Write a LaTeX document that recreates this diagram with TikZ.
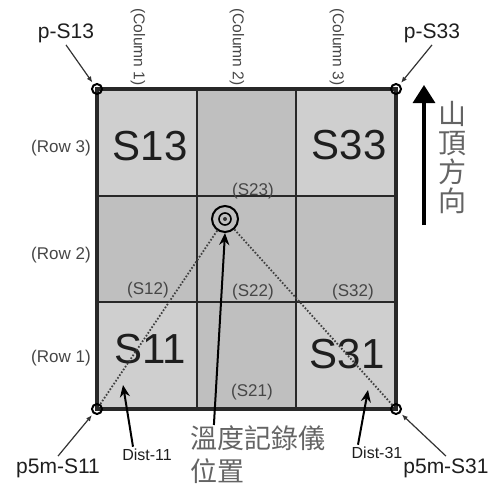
\documentclass[tikz,border=0pt]{standalone}
\usepackage{fontspec}
\setmainfont{Liberation Sans}
\newfontfamily\cjkfont{Noto Sans CJK TC}
\usepackage{xcolor}
\usepackage{tikz}
\usetikzlibrary{arrows.meta}
\definecolor{cellLt}{RGB}{207,207,207}
\definecolor{cellDk}{RGB}{191,191,191}
\definecolor{gridC}{RGB}{40,40,40}
\definecolor{txtC}{RGB}{30,30,30}
\definecolor{subC}{RGB}{70,70,70}
\definecolor{cjkC}{RGB}{100,100,100}
\tikzset{
  cellbox/.style={draw=gridC,line width=1pt,fill=cellLt,minimum width=49.5pt,
                  minimum height=53pt,inner sep=0pt},
  cellmid/.style={cellbox,fill=cellDk},
  bigtag/.style={font=\fontsize{21}{21}\selectfont,text=txtC,inner sep=0pt},
  subtag/.style={font=\fontsize{8.5}{8.5}\selectfont,text=subC,inner sep=1pt},
  coltag/.style={subtag,font=\fontsize{7.8}{7.8}\selectfont,rotate=-90},
  ptag/.style={font=\fontsize{10.5}{10.5}\selectfont,text=txtC,inner sep=1pt},
  disttag/.style={font=\fontsize{8}{8}\selectfont,text=txtC,inner sep=1pt},
  cjktag/.style={font=\cjkfont\fontsize{13.5}{16.5}\selectfont,text=cjkC,inner sep=0pt},
  marker/.style={circle,draw=black,line width=1pt,minimum size=5pt,inner sep=0pt},
  logger/.style={circle,draw=black,line width=1pt,minimum size=13pt,inner sep=0pt},
  ptr/.style={-{Latex[length=3pt,width=2.5pt]},line width=0.6pt,black!80,shorten >=1pt},
  sightline/.style={line width=0.9pt,black!75,dash pattern=on 0.8pt off 0.9pt},
  distarr/.style={-{Stealth[length=6pt,width=5pt]},line width=1pt,black},
  uparr/.style={-{Triangle[length=9pt,width=11pt]},line width=1.6pt,black},
}

\begin{document}
\begin{tikzpicture}[x=0.5pt,y=-0.5pt]
  \useasboundingbox (0,0) rectangle (489,493);
  % plot cells (column, row)
  \foreach \cl/\rw/\cx/\cy/\cs in {1/3/147.5/143/cellbox, 2/3/246.5/143/cellmid, 3/3/345.5/143/cellbox,
                                  1/2/147.5/249/cellmid, 2/2/246.5/249/cellmid, 3/2/345.5/249/cellmid,
                                  1/1/147.5/355/cellbox, 2/1/246.5/355/cellmid, 3/1/345.5/355/cellbox}
    \node[\cs] (c\cl\rw) at (\cx,\cy) {};
  \draw[gridC,line width=1.6pt] (c13.north west) rectangle (c31.south east);

  \node[bigtag] (s13) at (150,146) {S13};
  \node[bigtag] (s33) at (349,145) {S33};
  \node[bigtag] (s11) at (150,349) {S11};
  \node[bigtag] (s31) at (347,354) {S31};
  \node[subtag] (s23) at (253,191) {(S23)};
  \node[subtag] (s12) at (148,290) {(S12)};
  \node[subtag] (s22) at (253,292) {(S22)};
  \node[subtag] (s32) at (353,292) {(S32)};
  \node[subtag] (s21) at (252,392) {(S21)};

  \node[subtag] (r3) at (61,148) {(Row 3)};
  \node[subtag] (r2) at (61,255) {(Row 2)};
  \node[subtag] (r1) at (61,358) {(Row 1)};
  \node[coltag] (k1) at (138,47) {(Column 1)};
  \node[coltag] (k2) at (237,47) {(Column 2)};
  \node[coltag] (k3) at (337,47) {(Column 3)};

  % corner points and logger
  \node[marker] (p13) at (c13.north west) {};
  \node[marker] (p33) at (c33.north east) {};
  \node[marker] (p11) at (c11.south west) {};
  \node[marker] (p31) at (c31.south east) {};
  \node[logger] (lg) at (225,219) {};
  \node[circle,draw=black,line width=0.8pt,minimum size=6pt,inner sep=0pt] (lgin) at (lg) {};
  \fill[black!80] (lgin) circle (1pt);
  \draw[sightline] (lg) -- (p11);
  \draw[sightline] (lg) -- (p31);

  \node[ptag] (tp13) at (66,33) {p-S13};
  \node[ptag] (tp33) at (432,33) {p-S33};
  \node[ptag] (tp11) at (58,468) {p5m-S11};
  \node[ptag] (tp31) at (446,468) {p5m-S31};
  \draw[ptr] (tp13.south) -- (p13);
  \draw[ptr] (tp33.south) -- (p33);
  \draw[ptr] (tp11.north) -- (p11);
  \draw[ptr] (tp31.north) -- (p31);

  \node[disttag] (d11) at (147,455) {Dist-11};
  \node[disttag] (d31) at (377,453) {Dist-31};
  \coordinate (d11tip) at (123,385);
  \coordinate (d31tip) at (368,390);
  \draw[distarr] ([xshift=-7pt]d11.north) -- (d11tip);
  \draw[distarr] ([xshift=-9.5pt]d31.north) -- (d31tip);

  \node[cjktag,align=left,anchor=north west] (loc) at (190,425) {溫度記錄儀\\位置};
  \draw[distarr] ([xshift=-22pt]loc.north) -- (lg.south);

  % uphill direction
  \coordinate (nb) at (424,225);
  \coordinate (nt) at (424,85);
  \draw[uparr] (nb) -- (nt);
  \node[cjktag,align=center,font=\cjkfont\fontsize{14}{14.5}\selectfont] (dir) at (452,157.5) {山\\頂\\方\\向};
\end{tikzpicture}
\end{document}
